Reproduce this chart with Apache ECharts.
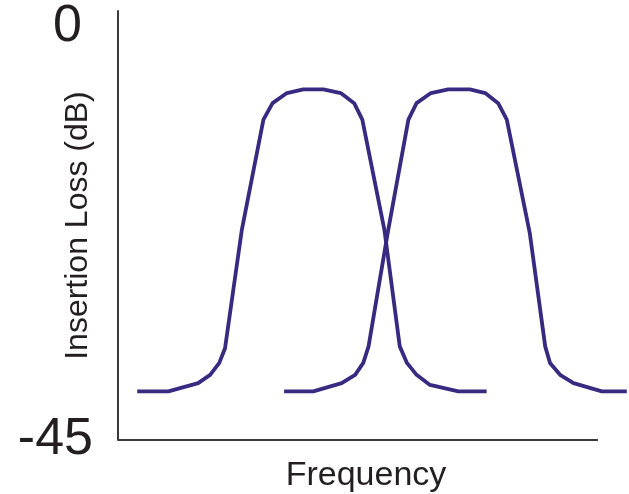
<!DOCTYPE html>
<html>
<head>
<meta charset="utf-8">
<script src="https://cdn.jsdelivr.net/npm/echarts@6/dist/echarts.min.js"></script>
<style>
  html, body { margin: 0; padding: 0; background: #fff; }
  #chart { width: 629px; height: 494px; }
</style>
</head>
<body>
<div id="chart"></div>
<script>
// Frequency axis (arbitrary units) and insertion loss (dB) for two adjacent channels
const channelA_freq = [4.0, 10.5, 16.7, 19.2, 21.1, 22.3, 25.8, 30.3, 32.2, 35.2, 38.6, 42.8, 46.4, 49.2, 50.9, 55.5, 58.7, 60.2, 62.2, 65.0, 70.9, 76.8];
const channelA_loss = [-39.7, -39.7, -38.8, -37.9, -36.6, -35.0, -22.1, -10.1, -8.3, -7.2, -6.8, -6.8, -7.2, -8.3, -10.1, -22.1, -34.8, -36.6, -37.9, -39.0, -39.7, -39.7];

const channelB_freq = [34.6, 40.7, 46.6, 49.4, 51.1, 52.2, 56.3, 60.5, 62.2, 65.2, 68.8, 73.3, 76.5, 79.2, 81.0, 85.8, 89.0, 90.0, 92.1, 94.9, 100.8, 106.0];
const channelB_loss = [-39.7, -39.7, -38.8, -37.9, -36.6, -34.8, -22.1, -10.1, -8.3, -7.2, -6.8, -6.8, -7.2, -8.3, -10.1, -22.5, -34.8, -36.6, -37.9, -38.8, -39.7, -39.7];

const yTicks = [-45, 0];
// Frequency span covered by the drawn baseline
const freqStart = 0;
const freqEnd = 100;

const pairs = (xs, ys) => xs.map((x, i) => [x, ys[i]]);
const lineColor = '#372a80';
const axisColor = '#3a3a3a';
const font = '"Liberation Sans", Arial, Helvetica, sans-serif';

const chart = echarts.init(document.getElementById('chart'), null, { renderer: 'canvas' });
chart.setOption({
  animation: false,
  grid: { left: 118, right: 0, top: 11, bottom: 54, containLabel: false, outerBoundsMode: 'none' },
  xAxis: {
    type: 'value',
    min: freqStart,
    max: 106.46,
    name: 'Frequency',
    nameLocation: 'middle',
    nameGap: 19,
    nameTextStyle: { fontFamily: font, fontSize: 34, color: '#231f20', verticalAlign: 'top', padding: [0, 15, 0, 0] },
    axisLine: { show: false, onZero: false },
    axisTick: { show: false },
    axisLabel: { show: false },
    splitLine: { show: false }
  },
  yAxis: {
    type: 'value',
    min: -45,
    max: 1.74,
    name: 'Insertion Loss (dB)',
    nameLocation: 'middle',
    nameGap: 24,
    nameMoveOverlap: false,
    nameTextStyle: { fontFamily: font, fontSize: 32, color: '#231f20' },
    axisLine: { show: true, onZero: false, lineStyle: { color: axisColor, width: 2 } },
    axisTick: { show: false },
    splitLine: { show: false },
    axisLabel: {
      customValues: yTicks,
      margin: 25,
      fontFamily: font,
      fontSize: 52,
      color: '#231f20',
      formatter: v => v === 0 ? '{z|' + v + '}' : String(v),
      rich: { z: { fontFamily: font, fontSize: 52, color: '#231f20', padding: [0, 11, 0, 0] } }
    }
  },
  series: [
    {
      type: 'line',
      data: pairs(channelA_freq, channelA_loss),
      symbol: 'none',
      lineStyle: { color: lineColor, width: 3.8, join: 'round' },
      markLine: {
        silent: true,
        symbol: 'none',
        label: { show: false },
        lineStyle: { color: axisColor, width: 2, type: 'solid' },
        data: [[{ coord: [freqStart, -45] }, { coord: [freqEnd, -45] }]]
      }
    },
    {
      type: 'line',
      data: pairs(channelB_freq, channelB_loss),
      symbol: 'none',
      lineStyle: { color: lineColor, width: 3.8, join: 'round' }
    }
  ]
});
</script>
</body>
</html>
